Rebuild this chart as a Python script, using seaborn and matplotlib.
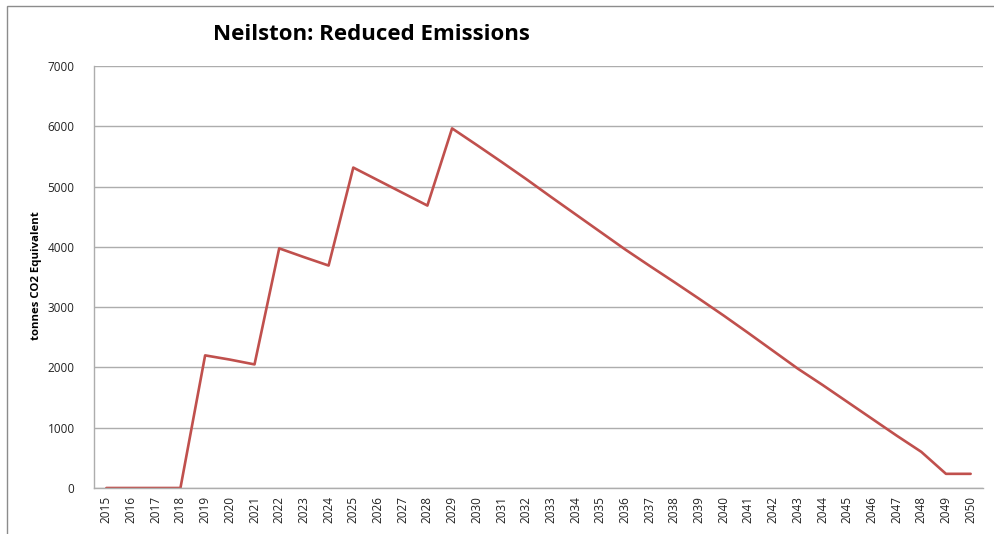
import matplotlib
matplotlib.use("Agg")
import matplotlib.pyplot as plt
import seaborn as sns
import pandas as pd
from matplotlib.patches import Rectangle

years = [str(y) for y in range(2015, 2051)]
reduced = [0, 0, 0, 0, 2200, 2130, 2050, 3975, 3830, 3690, 5315, 5105, 4895, 4685,
           5965, 5690, 5410, 5125, 4830, 4540, 4250, 3960, 3685, 3415, 3140, 2860,
           2570, 2275, 1980, 1710, 1430, 1150, 870, 600, 235, 235]
y_ticks = [0, 1000, 2000, 3000, 4000, 5000, 6000, 7000]

title = "Neilston: Reduced Emissions"
y_label = "tonnes CO2 Equivalent"

sns.set_theme(style="white")
plt.rcParams["font.family"] = ["Open Sans", "DejaVu Sans"]

df = pd.DataFrame({"pos": range(len(years)), "year": years, "value": reduced})

fig = plt.figure(figsize=(9.94, 5.34), dpi=100)
W, H = 994, 534
ax = fig.add_axes([94 / W, 1 - 488 / H, (983 - 94) / W, (488 - 66) / H])

sns.lineplot(data=df, x="pos", y="value", ax=ax, color="#C0504D", linewidth=1.9)

ax.set_xlim(-0.5, len(years) - 0.5)
ax.set_ylim(0, 7000)
ax.set_yticks(y_ticks)
ax.set_yticklabels([str(v) for v in y_ticks], fontsize=8.5, color="#222222")
ax.set_xticks(range(len(years)))
ax.set_xticklabels(years, rotation=90, fontsize=8.5, color="#222222")
ax.tick_params(axis="both", length=0, pad=6)
ax.tick_params(axis="y", pad=14)
ax.set_xlabel("")
ax.set_ylabel("")

ax.grid(axis="y", color="#ADADAD", linewidth=1.0)
ax.grid(axis="x", visible=False)
for side in ("top", "right"):
    ax.spines[side].set_visible(False)
for side in ("left", "bottom"):
    ax.spines[side].set_color("#ADADAD")
    ax.spines[side].set_linewidth(1.0)

fig.text(37 / W, 1 - 276 / H, y_label, ha="center", va="center", rotation=90,
         fontsize=8.2, fontweight="bold", color="#000000")
fig.text(371 / W, 1 - 34 / H, title, ha="center", va="center",
         fontsize=16, fontweight="bold", color="#000000")

# chart frame
fig.patches.append(Rectangle((7 / W, -0.1), 1.2, 1 - 6 / H + 0.1,
                             transform=fig.transFigure, fill=False,
                             edgecolor="#8C8C8C", linewidth=1.0))

fig.savefig("out.png", dpi=100)
